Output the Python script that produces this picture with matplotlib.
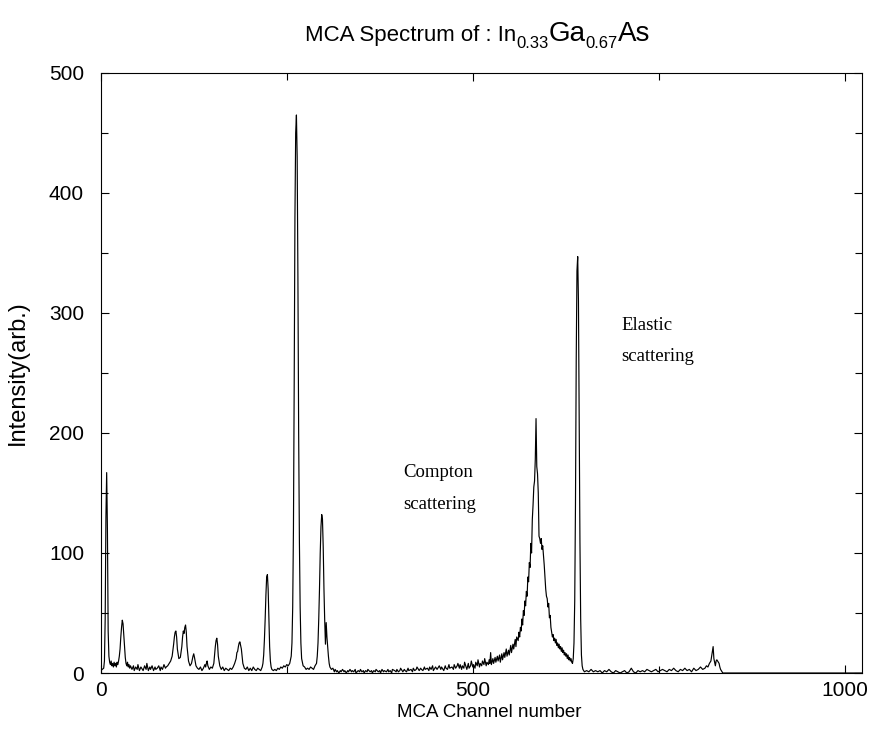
import matplotlib

matplotlib.use("Agg")
import matplotlib.pyplot as plt
from matplotlib.ticker import MultipleLocator
from matplotlib.transforms import IdentityTransform

# MCA spectrum (channel, counts), region by region
ch_low = [0, 2, 4, 5, 6, 7, 8, 9, 10, 11, 12, 13, 14, 15, 16, 17, 18, 19, 20, 21, 22,
          23, 24, 25, 26, 27, 28, 29, 30, 31, 32, 33, 34, 35, 36, 37, 38, 39, 40]
ct_low = [2, 3, 4, 10, 45, 130, 167, 120, 35, 14, 9, 7, 10, 6, 8, 5, 9, 6, 8, 5, 9,
          7, 10, 14, 20, 30, 38, 44, 41, 32, 22, 13, 8, 6, 9, 5, 7, 4, 6]

ch_bg1 = [42, 44, 45, 47, 49, 50, 52, 54, 55, 57, 59, 61, 62, 64, 66, 67, 69, 71, 73,
          74, 76, 78, 80, 81, 83, 85, 87, 88, 90, 92, 94]
ct_bg1 = [3, 6, 2, 5, 3, 7, 2, 5, 4, 2, 6, 3, 8, 2, 5, 3, 6, 2, 5, 3, 4, 6, 2, 5, 3,
          7, 4, 5, 6, 8, 10]

ch_pk1 = [96, 98, 99, 100, 101, 102, 103, 105, 107, 109, 110, 111, 112, 113, 114, 115,
          116, 118, 120, 122, 124, 125, 126, 128, 130, 132, 134]
ct_pk1 = [14, 24, 30, 34, 35, 30, 20, 12, 13, 22, 30, 35, 33, 38, 40, 34, 22, 10, 6,
          8, 14, 16, 13, 6, 4, 3, 5]

ch_pk2 = [136, 138, 140, 141, 142, 143, 144, 146, 148, 150, 152, 153, 154, 155, 156,
          157, 158, 160, 162, 164, 166, 168, 170, 172, 174, 176, 178, 180, 182, 183,
          184, 185, 186, 187, 188, 189, 190, 191, 193, 195, 197, 199]
ct_pk2 = [2, 4, 7, 5, 8, 10, 6, 3, 5, 4, 8, 15, 22, 27, 29, 24, 14, 6, 3, 5, 2, 4, 3,
          2, 4, 3, 5, 8, 12, 17, 18, 22, 25, 26, 23, 20, 14, 8, 4, 3, 5, 2]

ch_pk3 = [201, 203, 205, 207, 209, 211, 213, 215, 217, 218, 219, 220, 221, 222, 223,
          224, 225, 226, 227, 228, 229, 230, 232, 234, 236, 238, 240, 242, 244, 246,
          248, 250]
ct_pk3 = [4, 2, 5, 3, 2, 4, 3, 2, 5, 8, 15, 28, 45, 65, 80, 82, 70, 45, 22, 10, 5, 3,
          2, 3, 2, 4, 3, 5, 4, 6, 5, 7]

ch_pk4 = [252, 254, 256, 257, 258, 259, 260, 261, 262, 263, 264, 265, 266, 267, 268,
          269, 270, 272, 274, 276, 278, 280, 282, 284, 286, 288, 290, 291, 292, 293,
          294, 295, 296, 297, 298, 299, 300, 301, 302, 303, 304, 305, 306, 307, 308,
          310, 312]
ct_pk4 = [6, 8, 14, 25, 55, 120, 240, 380, 450, 465, 430, 330, 200, 110, 55, 25, 12,
          6, 5, 3, 4, 3, 5, 4, 3, 6, 8, 14, 25, 45, 70, 100, 122, 132, 128, 105, 70,
          44, 24, 42, 30, 22, 14, 8, 5, 3, 4]

ch_bg2 = [314, 315, 317, 318, 320, 322, 323, 325, 327, 328, 330, 332, 333, 335, 337,
          338, 340, 342, 343, 346, 348, 349, 351, 353, 354, 356, 358, 359, 362, 364,
          365, 367, 369, 370, 373, 375, 376, 378, 380, 381, 384, 386, 387, 389, 391,
          392, 395, 397, 398, 400, 402, 403, 406, 408, 409, 411, 413, 414, 417, 419,
          420, 422, 424, 425, 428, 430, 431, 433, 435, 436, 439, 441, 442, 444, 446,
          447, 450, 452, 453, 455, 457, 458, 461, 463, 464, 466, 468, 469, 472, 474,
          475, 477, 479, 480]
ct_bg2 = [1, 3, 1, 2, 0, 2, 1, 3, 1, 2, 0, 2, 1, 3, 1, 2, 1, 3, 0, 2, 1, 3, 1, 2, 0,
          2, 1, 3, 1, 2, 0, 2, 1, 3, 1, 2, 0, 3, 1, 2, 1, 3, 1, 2, 0, 3, 2, 1, 3, 1, 2,
          4, 1, 3, 2, 1, 4, 2, 3, 1, 4, 2, 3, 5, 2, 4, 3, 2, 5, 3, 4, 2, 5, 3, 6, 2, 5,
          3, 4, 6, 3, 5, 2, 6, 4, 3, 7, 4, 5, 3, 7, 4, 6, 8]

ch_rise = [482, 483, 485, 486, 488, 489, 491, 492, 494, 495, 497, 498, 500, 501, 503,
           504, 506, 507, 509, 510, 512, 513, 515, 516, 518, 519, 521, 522, 523, 524,
           525, 527, 528, 530, 531, 533, 534, 536, 537, 539, 540, 542, 543, 545, 546,
           548, 549, 551, 552, 554, 555, 557, 558, 559]
ct_rise = [4, 7, 3, 6, 4, 9, 5, 3, 8, 4, 6, 10, 5, 7, 4, 9, 6, 11, 5, 8, 6, 10, 7, 12,
           6, 9, 7, 11, 8, 17, 7, 12, 8, 13, 9, 14, 10, 15, 9, 16, 11, 17, 13, 20, 14,
           19, 15, 23, 17, 24, 20, 28, 22, 30]

# Compton hump and elastic line
ch_scat = [561, 562, 563, 564, 565, 566, 567, 568, 569, 570, 571, 572, 573, 574, 575,
           576, 577, 578, 579, 580, 581, 582, 583, 584, 585, 586, 587, 588, 589, 590,
           591, 592, 593, 594, 595, 596, 597, 598, 599, 600, 601, 602, 603, 604, 605,
           606, 607, 608, 609, 610, 611, 612, 613, 614, 615, 616, 617, 618, 619, 620,
           621, 622, 623, 624, 625, 626, 627, 628, 629, 630, 631, 632, 633, 634, 635,
           636, 637, 638, 639, 640, 641, 642, 643, 644, 645, 646, 647, 648, 649, 650]
ct_scat = [27, 34, 30, 38, 35, 45, 40, 52, 48, 60, 56, 68, 64, 80, 76, 92, 88, 108,
           100, 128, 140, 155, 160, 178, 212, 172, 166, 150, 114, 112, 108, 112, 103,
           106, 98, 90, 80, 70, 64, 62, 55, 58, 46, 48, 38, 34, 30, 32, 27, 29, 25, 28,
           23, 25, 21, 24, 20, 22, 18, 21, 17, 19, 15, 17, 14, 16, 12, 15, 11, 13, 10,
           12, 9, 8, 12, 25, 60, 140, 260, 335, 347, 310, 210, 110, 45, 15, 6, 3, 2, 1]

ch_tail = [653, 656, 659, 662, 665, 668, 671, 674, 677, 680, 683, 686, 689, 692, 695,
           698, 701, 704, 707, 710, 713, 716, 719, 722, 725, 728, 731, 734, 737, 740,
           743, 746, 749, 752, 755, 758, 761, 764, 767, 770, 773, 776, 779, 782, 785,
           788, 791, 794, 797, 800, 803, 806, 809, 812, 814, 816, 818, 820, 821, 822,
           823, 824, 825, 826, 827, 828, 829, 830, 831, 832, 833, 834, 836, 838, 1023]
ct_tail = [2, 1, 3, 1, 2, 1, 2, 0, 2, 1, 3, 1, 0, 2, 1, 0, 1, 2, 0, 1, 4, 1, 0, 2, 1,
           2, 1, 3, 2, 1, 2, 3, 1, 2, 3, 2, 1, 3, 2, 4, 2, 1, 3, 2, 4, 2, 3, 1, 4, 2, 3,
           5, 3, 4, 6, 5, 8, 10, 14, 18, 22, 12, 9, 6, 10, 11, 10, 9, 8, 5, 3, 2, 0, 0,
           0]

channels = (ch_low + ch_bg1 + ch_pk1 + ch_pk2 + ch_pk3 + ch_pk4 + ch_bg2 + ch_rise
            + ch_scat + ch_tail)
counts = (ct_low + ct_bg1 + ct_pk1 + ct_pk2 + ct_pk3 + ct_pk4 + ct_bg2 + ct_rise
          + ct_scat + ct_tail)

SANS = "Liberation Sans"
SERIF = "Liberation Serif"

fig = plt.figure(figsize=(8.69, 7.32), dpi=100)
ax = fig.add_axes([0.1159, 0.0806, 0.8760, 0.8197])
ax.plot(channels, counts, color="black", lw=0.85)

ax.set_xlim(0, 1023)
ax.set_ylim(0, 500)
ax.xaxis.set_major_locator(MultipleLocator(500))
ax.xaxis.set_minor_locator(MultipleLocator(250))
ax.yaxis.set_major_locator(MultipleLocator(100))
ax.yaxis.set_minor_locator(MultipleLocator(50))
ax.tick_params(which="both", direction="in", top=True, right=True, width=0.8)
ax.tick_params(which="major", length=6)
ax.tick_params(which="minor", length=5)
ax.tick_params(axis="x", pad=6, labelsize=15)
ax.tick_params(axis="y", pad=12, labelsize=15)
for lab in ax.get_xticklabels() + ax.get_yticklabels():
    lab.set_family(SANS)
for sp in ax.spines.values():
    sp.set_linewidth(0.8)

ax.set_xlabel("MCA Channel number", fontsize=13.5, family=SANS)
ax.set_ylabel("Intensity(arb.)", fontsize=17, family=SANS)
ax.xaxis.set_label_coords(0.51, -0.052)
ax.yaxis.set_label_coords(-0.094, 0.5)

ax.text(406, 163, "Compton", fontsize=13.5, family=SERIF, va="baseline")
ax.text(406, 137, "scattering", fontsize=13.5, family=SERIF, va="baseline")
ax.text(700, 286, "Elastic", fontsize=13.5, family=SERIF, va="baseline")
ax.text(700, 260, "scattering", fontsize=13.5, family=SERIF, va="baseline")

# title with mixed sizes and subscripts, laid out piece by piece in pixels
title_parts = [("MCA Spectrum of : In", 16, 0), ("0.33", 12, -7), ("Ga", 20, 0),
               ("0.67", 12, -7), ("As", 20, 0)]
renderer = fig.canvas.get_renderer()
x = 305
for txt, size, dy in title_parts:
    t = fig.text(x, 691 + dy, txt, fontsize=size, family=SANS, va="baseline",
                 transform=IdentityTransform())
    x += t.get_window_extent(renderer).width

fig.savefig("out.png", dpi=100)
